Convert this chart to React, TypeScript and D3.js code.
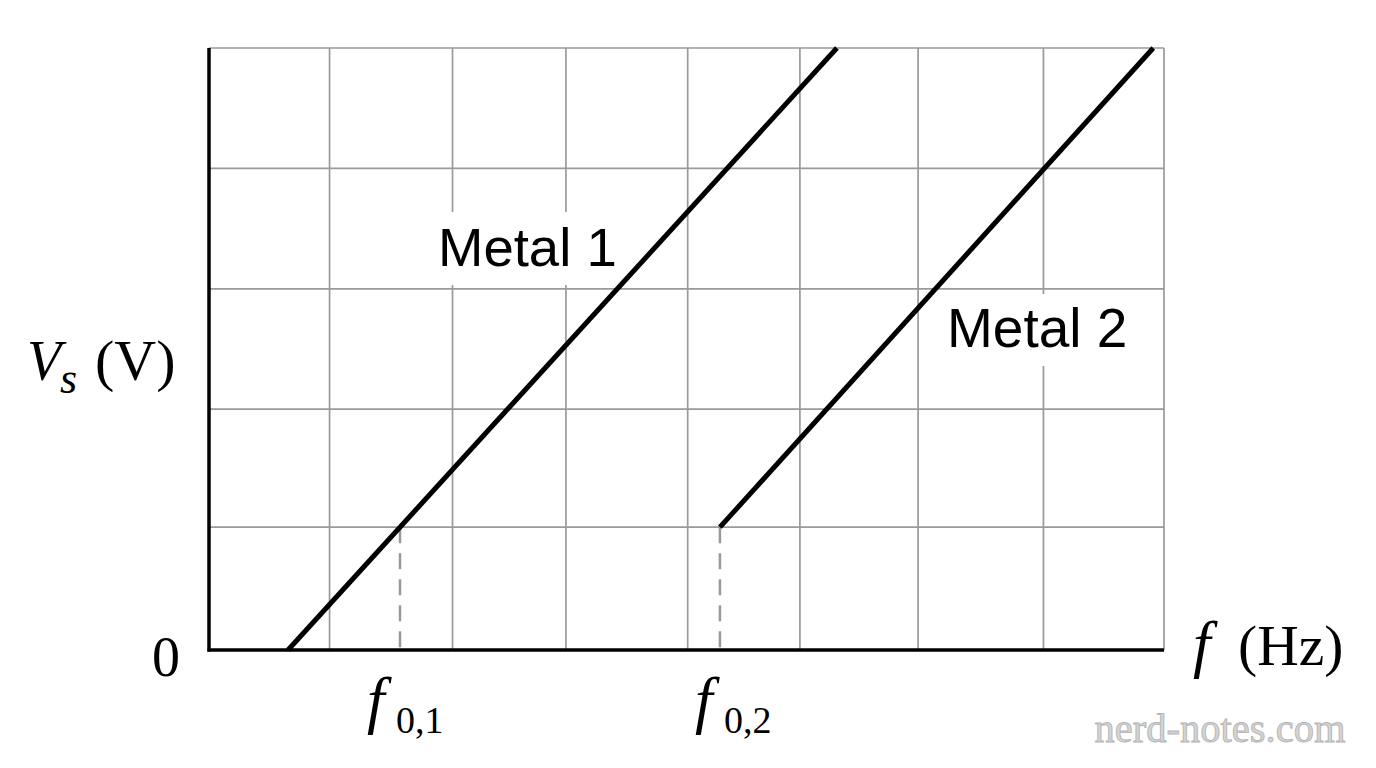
import React from "react";
import * as d3 from "d3";

// Grid line positions (frequency units / voltage units)
const xGridValues = [1.01, 2.04, 2.99, 4.01, 4.95, 5.94, 6.99, 8];
const yGridValues = [1.02, 2, 3, 4, 5];

// Series: stopping voltage vs frequency
const metal1F = [0.662, 5.26];
const metal1V = [0, 5];
const metal2F = [4.28, 7.91];
const metal2V = [1.02, 5];

// Threshold frequency markers
const thresholdF = [1.6, 4.28];
const thresholdV = [1.02, 1.02];
const thresholdSub = ["0,1", "0,2"];

const seriesNames = ["Metal 1", "Metal 2"];

const W = 1376;
const H = 768;
const X0 = 209, X1 = 1164, Y0 = 650, Y1 = 48;
const thresholdLabelShift = [-33, -25];

export default function App() {
  const x = d3.scaleLinear().domain([0, 8]).range([X0, X1]);
  const y = d3.scaleLinear().domain([0, 5]).range([Y0, Y1]);
  const line = d3
    .line<[number, number]>()
    .x((d) => x(d[0]))
    .y((d) => y(d[1]));

  const m1: [number, number][] = metal1F.map((f, i) => [f, metal1V[i]]);
  const m2: [number, number][] = metal2F.map((f, i) => [f, metal2V[i]]);

  const serif = "'Liberation Serif', 'Times New Roman', serif";
  const sans = "'Liberation Sans', Arial, sans-serif";

  return (
    <svg
      width={W}
      height={H}
      style={{ position: "absolute", left: 0, top: 0, background: "#fff" }}
    >
      <rect x={0} y={0} width={W} height={H} fill="#fff" />
      {/* grid */}
      <g stroke="#9a9a9a" strokeWidth={1.7}>
        {xGridValues.map((v, i) => (
          <line key={"gx" + i} x1={x(v)} x2={x(v)} y1={y(0)} y2={y(5)} />
        ))}
        {yGridValues.map((v, i) => (
          <line key={"gy" + i} x1={x(0)} x2={x(8)} y1={y(v)} y2={y(v)} />
        ))}
      </g>
      {/* label backgrounds */}
      <rect x={428} y={212} width={190} height={73} fill="#fff" />
      <rect x={938} y={294} width={200} height={72} fill="#fff" />
      <text x={438} y={266} fontFamily={sans} fontSize={54.5} fill="#000">
        {seriesNames[0]}
      </text>
      <text x={947} y={347} fontFamily={sans} fontSize={55} fill="#000">
        {seriesNames[1]}
      </text>
      {/* dashed threshold lines */}
      {thresholdF.map((f, i) => (
        <line
          key={"th" + i}
          x1={x(f)}
          x2={x(f)}
          y1={y(thresholdV[i])}
          y2={y(0)}
          stroke="#999"
          strokeWidth={2.5}
          strokeDasharray="16,10"
        />
      ))}
      {/* axes */}
      <line x1={x(0)} x2={x(0)} y1={y(5)} y2={y(0) + 1.5} stroke="#000" strokeWidth={3.5} />
      <line x1={x(0) - 1.5} x2={x(8)} y1={y(0)} y2={y(0)} stroke="#000" strokeWidth={3.5} />
      {/* series lines */}
      <path d={line(m1) || ""} fill="none" stroke="#000" strokeWidth={5} />
      <path d={line(m2) || ""} fill="none" stroke="#000" strokeWidth={5} />
      {/* axis labels */}
      <text x={152} y={676} fontFamily={serif} fontSize={56} fill="#000">
        0
      </text>
      <text fontFamily={serif} fill="#000">
        <tspan x={27} y={380} fontStyle="italic" fontSize={56}>V</tspan>
        <tspan x={60} y={393} fontStyle="italic" fontSize={44}>s</tspan>
        <tspan x={95} y={380} fontSize={58}>(V)</tspan>
      </text>
      <text fontFamily={serif} fill="#000">
        <tspan x={1193} y={665} fontStyle="italic" fontSize={63}>f</tspan>
        <tspan x={1238} y={665} fontSize={57.5}>(Hz)</tspan>
      </text>
      {thresholdF.map((f, i) => (
        <text key={"tl" + i} fontFamily={serif} fill="#000">
          <tspan x={x(f) + thresholdLabelShift[i]} y={721} fontStyle="italic" fontSize={63}>f</tspan>
          <tspan x={x(f) + thresholdLabelShift[i] + 29} y={733} fontSize={38}>{thresholdSub[i]}</tspan>
        </text>
      ))}
      {/* watermark */}
      <text
        x={1220}
        y={742}
        textAnchor="middle"
        fontFamily={serif}
        fontSize={40.5}
        fill="#d4d4d4"
        stroke="#b4b4b4"
        strokeWidth={0.9}
      >
        nerd-notes.com
      </text>
    </svg>
  );
}
